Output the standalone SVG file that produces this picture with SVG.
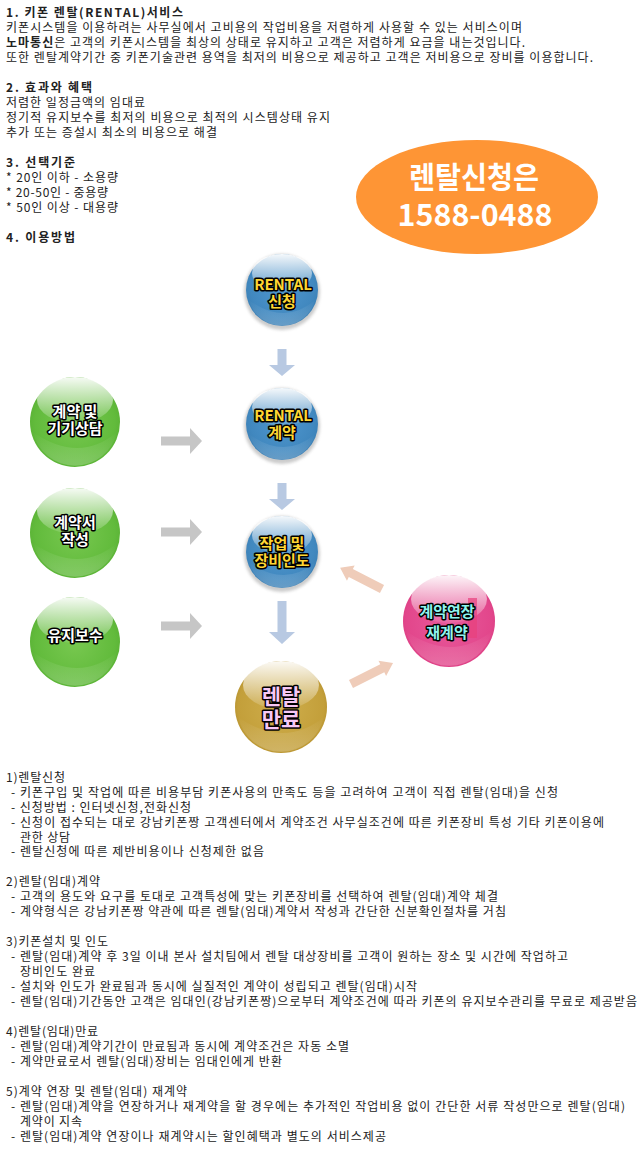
<svg xmlns="http://www.w3.org/2000/svg" width="640" height="1156" viewBox="0 0 640 1156">
<style>
text{font-family:"Noto Sans CJK KR","Noto Sans",sans-serif}
.t{font-size:12px;fill:#222}
.h{font-size:12px;font-weight:700;fill:#222}
.b{font-weight:700}
.n{font-size:15px;font-weight:700;text-anchor:middle;paint-order:stroke;stroke:#000;stroke-width:3px;stroke-linejoin:round}
.l{font-size:21px}
.y{fill:#ffd633}.w{fill:#fff}.c{fill:#8ff5ee}.p{fill:#f7c8f5}
.o{fill:#fff;font-weight:700;text-anchor:middle}
.ab{fill:#b8c9e2}.ag{fill:#c6c6c6}.ao{fill:#efccb9}
</style>
<defs>
<radialGradient id="blue" cx="50%" cy="45%" r="55%"><stop offset="0" stop-color="#4f97cf"/><stop offset=".8" stop-color="#4188bf"/><stop offset="1" stop-color="#3b80b6"/></radialGradient>
<radialGradient id="green" cx="50%" cy="50%" r="55%"><stop offset="0" stop-color="#78c850"/><stop offset=".8" stop-color="#62bb3c"/><stop offset="1" stop-color="#58b034"/></radialGradient>
<radialGradient id="gold" cx="50%" cy="50%" r="55%"><stop offset="0" stop-color="#cfae4c"/><stop offset=".85" stop-color="#c39f3a"/><stop offset="1" stop-color="#b08c2b"/></radialGradient>
<radialGradient id="pink" cx="50%" cy="50%" r="55%"><stop offset="0" stop-color="#e85a9c"/><stop offset=".85" stop-color="#e2468b"/><stop offset="1" stop-color="#d93b80"/></radialGradient>
<linearGradient id="hi" x1="0" y1="0" x2="0" y2="1"><stop offset="0" stop-color="#fff" stop-opacity=".95"/><stop offset="1" stop-color="#fff" stop-opacity=".08"/></linearGradient>
<linearGradient id="lo" x1="0" y1="0" x2="0" y2="1"><stop offset="0" stop-color="#fff" stop-opacity="0"/><stop offset="1" stop-color="#fff" stop-opacity=".22"/></linearGradient>
<filter id="sh" x="-20%" y="-20%" width="140%" height="140%"><feGaussianBlur stdDeviation="1.5"/></filter>
<path id="obl" d="M0-4.500H35V-8.500L47 0 35 8.500V4.500H0z"/>
</defs>

<g id="intro" transform="translate(0,1)">
<text class="h" x="6" y="16" textLength="177" lengthAdjust="spacing">1. 키폰 렌탈(RENTAL)서비스</text>
<text class="t" x="6" y="31" textLength="516" lengthAdjust="spacing">키폰시스템을 이용하려는 사무실에서 고비용의 작업비용을 저렴하게 사용할 수 있는 서비스이며</text>
<text class="t" x="6" y="46" textLength="519" lengthAdjust="spacing"><tspan class="b">노마통신</tspan>은 고객의 키폰시스템을 최상의 상태로 유지하고 고객은 저렴하게 요금을 내는것입니다.</text>
<text class="t" x="6" y="61" textLength="587" lengthAdjust="spacing">또한 렌탈계약기간 중 키폰기술관련 용역을 최저의 비용으로 제공하고 고객은 저비용으로 장비를 이용합니다.</text>
<text class="h" x="6" y="91" textLength="86" lengthAdjust="spacing">2. 효과와 혜택</text>
<text class="t" x="6" y="106" textLength="139" lengthAdjust="spacing">저렴한 일정금액의 임대료</text>
<text class="t" x="6" y="121" textLength="324" lengthAdjust="spacing">정기적 유지보수를 최저의 비용으로 최적의 시스템상태 유지</text>
<text class="t" x="6" y="136" textLength="211" lengthAdjust="spacing">추가 또는 증설시 최소의 비용으로 해결</text>
<text class="h" x="6" y="166" textLength="69" lengthAdjust="spacing">3. 선택기준</text>
<text class="t" x="6" y="181" textLength="112" lengthAdjust="spacing">* 20인 이하 - 소용량</text>
<text class="t" x="6" y="196" textLength="102" lengthAdjust="spacing">* 20-50인 - 중용량</text>
<text class="t" x="6" y="211" textLength="112" lengthAdjust="spacing">* 50인 이상 - 대용량</text>
<text class="h" x="6" y="241" textLength="69" lengthAdjust="spacing">4. 이용방법</text>
</g>

<g id="phone">
<ellipse cx="477" cy="197" rx="121" ry="57" fill="#fe9535"/>
<text class="o" x="474" y="188" font-size="30" textLength="130" lengthAdjust="spacingAndGlyphs">렌탈신청은</text>
<text class="o" x="475" y="226" font-size="30" textLength="155" lengthAdjust="spacingAndGlyphs">1588-0488</text>
</g>

<g id="connectors">
<path class="ab" d="M277.500 349h9v16h8.500l-13 11-13-11h8.500z"/>
<path class="ab" d="M277.500 483h9v16h8.500l-13 11-13-11h8.500z"/>
<path class="ab" d="M277.500 601h9v31h8.500l-13 12-13-12h8.500z"/>
<path class="ag" d="M161 436.500h29v-8.500l12 13-12 13v-8.500h-29z"/>
<path class="ag" d="M161 527.500h29v-8.500l12 13-12 13v-8.500h-29z"/>
<path class="ag" d="M161 621.500h29v-8.500l12 13-12 13v-8.500h-29z"/>
<use href="#obl" class="ao" transform="translate(382,589) rotate(207)"/>
<use href="#obl" class="ao" transform="translate(351,684) rotate(-26.600)"/>
</g>

<g id="node-rental-apply">
<circle cx="282" cy="292" r="38" fill="#999" opacity=".5" filter="url(#sh)"/>
<circle cx="282" cy="290" r="36" fill="url(#blue)"/>
<ellipse cx="282" cy="273" rx="30" ry="19" fill="url(#hi)"/>
<path d="M249 300a34 34 0 0 0 66 0q-30 26-66 0z" fill="url(#lo)"/>
<text class="n y" x="283" y="290">RENTAL</text>
<text class="n y" x="282" y="307">신청</text>
</g>

<g id="node-rental-contract">
<circle cx="282" cy="426" r="38" fill="#999" opacity=".5" filter="url(#sh)"/>
<circle cx="282" cy="424" r="36" fill="url(#blue)"/>
<ellipse cx="282" cy="407" rx="30" ry="19" fill="url(#hi)"/>
<path d="M249 434a34 34 0 0 0 66 0q-30 26-66 0z" fill="url(#lo)"/>
<text class="n y" x="283" y="421">RENTAL</text>
<text class="n y" x="282" y="438">계약</text>
</g>

<g id="node-work-delivery">
<circle cx="282" cy="554" r="38" fill="#999" opacity=".5" filter="url(#sh)"/>
<circle cx="282" cy="552" r="36" fill="url(#blue)"/>
<ellipse cx="282" cy="535" rx="30" ry="19" fill="url(#hi)"/>
<path d="M249 562a34 34 0 0 0 66 0q-30 26-66 0z" fill="url(#lo)"/>
<text class="n y" x="282" y="549">작업 및</text>
<text class="n y" x="282" y="566">장비인도</text>
</g>

<g id="node-consult">
<circle cx="75" cy="422" r="45" fill="url(#green)"/>
<ellipse cx="75" cy="400" rx="38" ry="23" fill="url(#hi)"/>
<path d="M33 432a43 43 0 0 0 84 0q-38 32-84 0z" fill="url(#lo)"/>
<text class="n w" x="75" y="417">계약 및</text>
<text class="n w" x="75" y="434">기기상담</text>
</g>

<g id="node-writing">
<circle cx="75" cy="533" r="45" fill="url(#green)"/>
<ellipse cx="75" cy="511" rx="38" ry="23" fill="url(#hi)"/>
<path d="M33 543a43 43 0 0 0 84 0q-38 32-84 0z" fill="url(#lo)"/>
<text class="n w" x="75" y="528">계약서</text>
<text class="n w" x="75" y="545">작성</text>
</g>

<g id="node-maintain">
<circle cx="75" cy="642" r="45" fill="url(#green)"/>
<ellipse cx="75" cy="620" rx="38" ry="23" fill="url(#hi)"/>
<path d="M33 652a43 43 0 0 0 84 0q-38 32-84 0z" fill="url(#lo)"/>
<text class="n w" x="75" y="641">유지보수</text>
</g>

<g id="node-end">
<circle cx="281" cy="707" r="46" fill="url(#gold)"/>
<ellipse cx="281" cy="685" rx="38" ry="24" fill="url(#hi)"/>
<path d="M238 717a44 44 0 0 0 86 0q-40 32-86 0z" fill="url(#lo)"/>
<text class="n p l" x="281" y="704">렌탈</text>
<text class="n p l" x="281" y="727">만료</text>
</g>

<g id="node-renew">
<circle cx="449" cy="621" r="46" fill="url(#pink)"/>
<ellipse cx="449" cy="599" rx="38" ry="24" fill="url(#hi)"/>
<path d="M406 631a44 44 0 0 0 86 0q-40 32-86 0z" fill="url(#lo)"/>
<rect x="468" y="598" width="9" height="40" fill="#e8407c" opacity=".7"/>
<text class="n c" x="447" y="617">계약연장</text>
<text class="n c" x="447" y="638">재계약</text>
</g>

<g id="details" transform="translate(0,1)">
<text class="t" x="6" y="781" textLength="59" lengthAdjust="spacing">1)렌탈신청</text>
<text class="t" x="11" y="796" textLength="547" lengthAdjust="spacing">- 키폰구입 및 작업에 따른 비용부담 키폰사용의 만족도 등을 고려하여 고객이 직접 렌탈(임대)을 신청</text>
<text class="t" x="11" y="811" textLength="180" lengthAdjust="spacing">- 신청방법 : 인터넷신청,전화신청</text>
<text class="t" x="11" y="826" textLength="593" lengthAdjust="spacing">- 신청이 접수되는 대로 강남키폰짱 고객센터에서 계약조건 사무실조건에 따른 키폰장비 특성 기타 키폰이용에</text>
<text class="t" x="20" y="841" textLength="50" lengthAdjust="spacing">관한 상담</text>
<text class="t" x="11" y="855" textLength="253" lengthAdjust="spacing">- 렌탈신청에 따른 제반비용이나 신청제한 없음</text>
<text class="t" x="6" y="885" textLength="94" lengthAdjust="spacing">2)렌탈(임대)계약</text>
<text class="t" x="11" y="900" textLength="487" lengthAdjust="spacing">- 고객의 용도와 요구를 토대로 고객특성에 맞는 키폰장비를 선택하여 렌탈(임대)계약 체결</text>
<text class="t" x="11" y="915" textLength="495" lengthAdjust="spacing">- 계약형식은 강남키폰짱 약관에 따른 렌탈(임대)계약서 작성과 간단한 신분확인절차를 거침</text>
<text class="t" x="6" y="945" textLength="102" lengthAdjust="spacing">3)키폰설치 및 인도</text>
<text class="t" x="11" y="960" textLength="557" lengthAdjust="spacing">- 렌탈(임대)계약 후 3일 이내 본사 설치팀에서 렌탈 대상장비를 고객이 원하는 장소 및 시간에 작업하고</text>
<text class="t" x="20" y="975" textLength="75" lengthAdjust="spacing">장비인도 완료</text>
<text class="t" x="11" y="990" textLength="406" lengthAdjust="spacing">- 설치와 인도가 완료됨과 동시에 실질적인 계약이 성립되고 렌탈(임대)시작</text>
<text class="t" x="11" y="1005" textLength="626" lengthAdjust="spacing">- 렌탈(임대)기간동안 고객은 임대인(강남키폰짱)으로부터 계약조건에 따라 키폰의 유지보수관리를 무료로 제공받음</text>
<text class="t" x="6" y="1035" textLength="92" lengthAdjust="spacing">4)렌탈(임대)만료</text>
<text class="t" x="11" y="1050" textLength="338" lengthAdjust="spacing">- 렌탈(임대)계약기간이 만료됨과 동시에 계약조건은 자동 소멸</text>
<text class="t" x="11" y="1065" textLength="271" lengthAdjust="spacing">- 계약만료로서 렌탈(임대)장비는 임대인에게 반환</text>
<text class="t" x="6" y="1095" textLength="181" lengthAdjust="spacing">5)계약 연장 및 렌탈(임대) 재계약</text>
<text class="t" x="11" y="1110" textLength="614" lengthAdjust="spacing">- 렌탈(임대)계약을 연장하거나 재계약을 할 경우에는 추가적인 작업비용 없이 간단한 서류 작성만으로 렌탈(임대)</text>
<text class="t" x="20" y="1125" textLength="62" lengthAdjust="spacing">계약이 지속</text>
<text class="t" x="11" y="1140" textLength="375" lengthAdjust="spacing">- 렌탈(임대)계약 연장이나 재계약시는 할인혜택과 별도의 서비스제공</text>
</g>
</svg>
